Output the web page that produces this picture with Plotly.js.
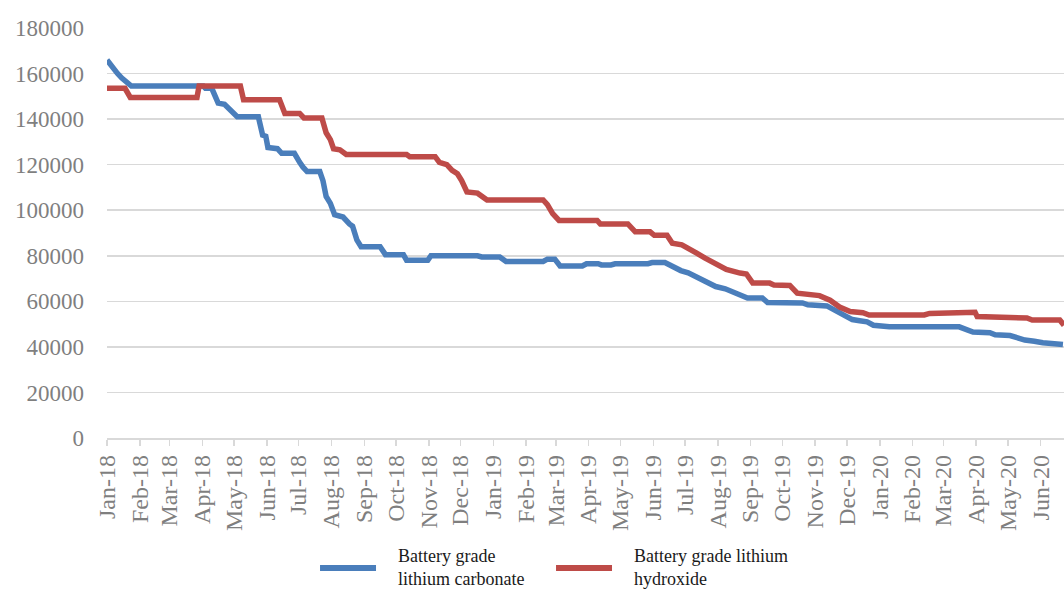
<!DOCTYPE html>
<html>
<head>
<meta charset="utf-8">
<script src="https://cdn.plot.ly/plotly-3.0.1.min.js"></script>
<style>
html,body{margin:0;padding:0;background:#fff;}
#chart{width:1064px;height:592px;}
</style>
</head>
<body>
<div id="chart"></div>
<script>
// Battery grade lithium carbonate (date, price)
const carbonateDates = [
  '2018-01-01','2018-01-04','2018-01-08','2018-01-11','2018-01-15','2018-01-19','2018-01-24',
  '2018-04-02','2018-04-04','2018-04-10','2018-04-16','2018-04-22','2018-04-26','2018-05-01','2018-05-04',
  '2018-05-24','2018-05-26','2018-05-28','2018-05-31','2018-06-02','2018-06-11','2018-06-15','2018-06-27',
  '2018-06-29','2018-07-02','2018-07-05','2018-07-09','2018-07-21','2018-07-24','2018-07-27','2018-07-31',
  '2018-08-04','2018-08-12','2018-08-18','2018-08-21','2018-08-25','2018-08-29','2018-09-16','2018-09-21',
  '2018-10-08','2018-10-11','2018-10-31','2018-11-03','2018-12-17','2018-12-21',
  '2019-01-07','2019-01-13','2019-02-17','2019-02-21','2019-02-28','2019-03-05','2019-03-26','2019-03-30',
  '2019-04-10','2019-04-13','2019-04-22','2019-04-26','2019-05-27','2019-05-31','2019-06-12','2019-06-17',
  '2019-06-22','2019-06-27','2019-07-04','2019-07-12','2019-07-18','2019-07-23','2019-07-30','2019-08-08',
  '2019-08-15','2019-08-22','2019-08-29','2019-09-12','2019-09-17','2019-10-20','2019-10-25','2019-11-12',
  '2019-11-18','2019-11-24','2019-12-01','2019-12-06','2019-12-13','2019-12-20','2019-12-26',
  '2020-01-01','2020-01-10','2020-03-16','2020-03-22','2020-03-29','2020-04-14','2020-04-19','2020-05-03',
  '2020-05-09','2020-05-17','2020-05-26','2020-06-03','2020-06-22'
];
const carbonateValues = [
  166000,164000,162000,160000,158000,156500,154500,
  154500,153500,153500,147000,146500,144500,142000,141000,
  141000,138000,133000,132500,127500,127000,125000,125000,
  123000,121000,119000,117000,117000,113000,106000,103000,
  98000,97000,94000,93000,87000,84000,84000,80500,
  80500,78000,78000,80000,80000,79500,
  79500,77500,77500,78500,78500,75500,75500,76500,
  76500,76000,76000,76500,76500,77000,77000,75800,
  75000,73500,72500,70500,69500,68000,66500,65500,
  64000,63000,61500,61500,59500,59300,58500,58000,
  56500,54500,53000,52000,51500,51000,49500,
  49300,48800,48800,47800,46500,46200,45300,45000,
  44000,43000,42500,41800,41000
];

// Battery grade lithium hydroxide (date, price)
const hydroxideDates = [
  '2018-01-01','2018-01-18','2018-01-23','2018-03-27','2018-03-29','2018-05-07','2018-05-10','2018-06-13',
  '2018-06-18','2018-07-02','2018-07-06','2018-07-23','2018-07-27','2018-07-31','2018-08-03','2018-08-09',
  '2018-08-15','2018-10-11','2018-10-14','2018-11-07','2018-11-11','2018-11-18','2018-11-23','2018-11-28',
  '2018-12-02','2018-12-07','2018-12-17','2018-12-22','2018-12-26',
  '2019-02-17','2019-02-21','2019-02-26','2019-03-04','2019-04-09','2019-04-12','2019-05-08','2019-05-15',
  '2019-05-29','2019-06-02','2019-06-14','2019-06-19','2019-06-28','2019-07-06','2019-07-12','2019-07-20',
  '2019-07-27','2019-08-03','2019-08-09','2019-08-22','2019-08-28','2019-09-03','2019-09-19','2019-09-23',
  '2019-10-08','2019-10-15','2019-10-30','2019-11-05','2019-11-15','2019-11-24','2019-12-04','2019-12-16',
  '2019-12-22','2020-02-12','2020-02-17','2020-03-04','2020-03-10','2020-03-31','2020-04-02','2020-04-26',
  '2020-04-30','2020-05-19','2020-05-24','2020-06-19','2020-06-23'
];
const hydroxideValues = [
  153500,153500,149500,149500,154500,154500,148500,148500,
  142500,142500,140500,140500,134000,131000,127000,126500,
  124500,124500,123500,123500,121000,120000,117500,116000,
  113000,108000,107500,106000,104500,
  104500,102500,98500,95500,95500,94000,94000,90500,
  90500,89000,89000,85500,84800,83000,81200,79000,
  77300,75000,74000,72400,72000,68000,68000,67200,
  67000,63600,63200,62500,60500,57500,55500,55000,
  54000,54000,54700,54700,55200,55200,53300,53300,
  52700,52700,51800,51800,49500
];

// Axis ticks
const monthTicks = [
  '2018-01-01','2018-02-01','2018-03-01','2018-04-01','2018-05-01','2018-06-01','2018-07-01','2018-08-01',
  '2018-09-01','2018-10-01','2018-11-01','2018-12-01','2019-01-01','2019-02-01','2019-03-01','2019-04-01',
  '2019-05-01','2019-06-01','2019-07-01','2019-08-01','2019-09-01','2019-10-01','2019-11-01','2019-12-01',
  '2020-01-01','2020-02-01','2020-03-01','2020-04-01','2020-05-01','2020-06-01'
];
const monthLabels = [
  'Jan-18','Feb-18','Mar-18','Apr-18','May-18','Jun-18','Jul-18','Aug-18','Sep-18','Oct-18','Nov-18','Dec-18',
  'Jan-19','Feb-19','Mar-19','Apr-19','May-19','Jun-19','Jul-19','Aug-19','Sep-19','Oct-19','Nov-19','Dec-19',
  'Jan-20','Feb-20','Mar-20','Apr-20','May-20','Jun-20'
];
const seriesNames = ['Battery grade<br>lithium carbonate', 'Battery grade lithium<br>hydroxide'];
const seriesColors = ['#4a7ebb', '#be4b48'];

const traces = [
  {x: carbonateDates, y: carbonateValues, name: seriesNames[0], type: 'scatter', mode: 'lines',
   line: {color: seriesColors[0], width: 5.5}},
  {x: hydroxideDates, y: hydroxideValues, name: seriesNames[1], type: 'scatter', mode: 'lines',
   line: {color: seriesColors[1], width: 5.5}}
];

const font = 'Liberation Serif, Times New Roman, serif';

// Custom legend below the plot (paper coordinates)
const legendSamples = [[0.2226, 0.2811], [0.4692, 0.5277]];
const legendTextX = [0.302, 0.5486];
const legendY = -0.317;
const shapes = legendSamples.map((s, i) => ({
  type: 'line', xref: 'paper', yref: 'paper', x0: s[0], x1: s[1], y0: legendY, y1: legendY,
  line: {color: seriesColors[i], width: 6}
}));
const annotations = seriesNames.map((n, i) => ({
  xref: 'paper', yref: 'paper', x: legendTextX[i], y: legendY, xanchor: 'left', yanchor: 'middle',
  text: n, showarrow: false, align: 'left',
  font: {family: font, size: 18, color: '#1a1a1a'}
}));

const layout = {
  width: 1064, height: 592,
  margin: {l: 107, r: 0, t: 28, b: 154, autoexpand: false},
  paper_bgcolor: '#fff', plot_bgcolor: '#fff',
  showlegend: false,
  shapes: shapes,
  annotations: annotations,
  xaxis: {
    type: 'date', range: ['2018-01-01', '2020-06-23'],
    tickmode: 'array', tickvals: monthTicks, ticktext: monthLabels, tickangle: -90,
    ticks: 'outside', ticklen: 6, tickcolor: '#d9d9d9', tickwidth: 1.5,
    showgrid: false, showline: true, linecolor: '#d9d9d9', linewidth: 1.5, zeroline: false,
    tickfont: {family: font, size: 24, color: '#7f7f7f'}
  },
  yaxis: {
    range: [0, 180000], dtick: 20000, tick0: 0, tickformat: 'd',
    showgrid: true, gridcolor: '#d9d9d9', gridwidth: 1.5, zeroline: false, showline: false,
    ticks: '', ticklabelstandoff: 22,
    tickfont: {family: font, size: 23, color: '#7f7f7f'}
  }
};

Plotly.newPlot('chart', traces, layout, {displayModeBar: false, staticPlot: true});
</script>
</body>
</html>
